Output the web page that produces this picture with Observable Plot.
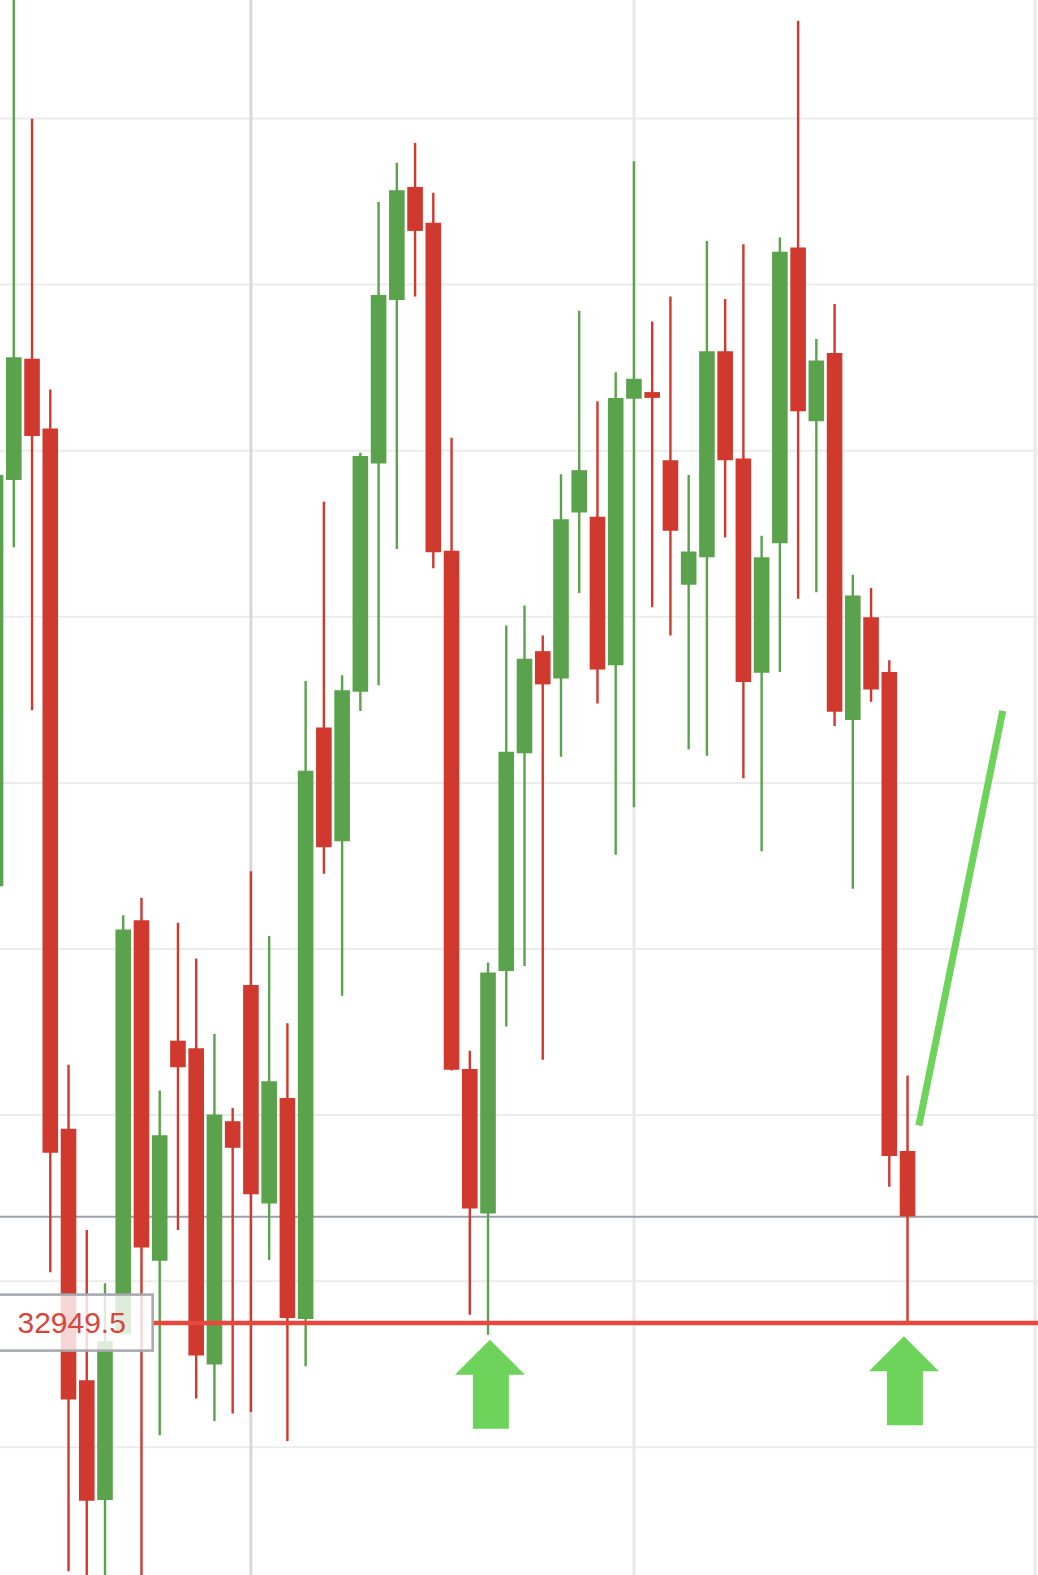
<!DOCTYPE html>
<html><head><meta charset="utf-8">
<script src="https://cdn.jsdelivr.net/npm/d3@7"></script>
<script src="https://cdn.jsdelivr.net/npm/@observablehq/plot@0.6"></script>
<style>html,body{margin:0;padding:0;background:#fff;overflow:hidden}#chart svg{display:block}</style>
</head><body><div id="chart"></div>
<script>
// OHLC per candle (index 0 is partially cut off at left edge)
const opens  = [33475,33964,34110,34026,33183,32880,32736,32936,33434,33024,33289,33280,32899,33192,33356,33093,33220,32954,33666,33529,33709,33984,34181,34317,34274,33879,33255,33081,33373,33635,33758,33725,33925,33920,33741,34062,34070,33988,33838,33871,34119,33990,33732,33888,34244,34035,34117,33675,33799,33733,33156];
const highs  = [33970,34570,34399,34073,33260,33061,32997,33440,33461,33229,33431,33388,33297,33208,33493,33415,33310,33722,33938,33729,33997,34299,34346,34370,34310,34015,33277,33383,33789,33813,33777,33971,34168,34059,34094,34348,34155,34185,33970,34252,34182,34248,33897,34256,34517,34134,34176,33850,33834,33747,33247];
const lows   = [33475,33883,33687,33010,32650,32620,32620,32935,32620,32814,33061,32858,32831,32840,32842,33025,32807,32897,33490,33343,33686,33717,33881,34185,33858,33253,32959,32935,33306,33379,33266,33631,33828,33695,33513,33570,33811,33777,33640,33632,33895,33605,33517,33733,33821,33829,33668,33472,33697,33113,32950];
const closes = [33970,34112,34017,33154,32857,32735,32927,33423,33040,33175,33257,32910,33200,33160,33104,33240,32955,33614,33522,33711,33993,34187,34313,34264,33877,33254,33087,33371,33637,33749,33718,33917,33976,33736,34063,34086,34063,33903,33878,34119,33988,33721,33871,34239,34047,34108,33685,33825,33712,33150,33077.5];

const gridPrices = [32800,33000,33200,33400,33600,33800,34000,34200,34400];
const timeGridIdx = [14, 35, 57];
const supportLevel = 32949.5;
const labelSpan = [-0.5, 8.64];          // candle-index extent of the price tag
const labelTextIdx = [1.2];
const arrowTipIdx = [27.1, 49.8];
const arrowTipPrice = [32929.6, 32933.8];
const trendIdx = [50.62, 55.22];
const trendPrice = [33187.5, 33686.7];

const GREEN = "#5aa24b", RED = "#cf392e", HL = "#6dd35a";
const xDomain = [0.2708, 57.18], yDomain = [32645.6, 34542.1];
const W = 1038, H = 1575;
const pxPerIdx = W / (xDomain[1] - xDomain[0]);
const pxPerPrice = H / (yDomain[1] - yDomain[0]);

const candles = opens.map((o, i) => ({i, open: o, close: closes[i], high: highs[i], low: lows[i]}));
const ups = candles.filter(d => d.close >= d.open);
const downs = candles.filter(d => d.close < d.open);
const lastClose = closes[closes.length - 1];

// arrow polygons (offsets in px, converted into data units)
const shape = [[0,0],[35,35],[19,35],[19,89],[-17,89],[-17,35],[-35,35],[0,0]];
const arrowPts = [];
arrowTipIdx.forEach((xi, k) => {
  shape.forEach(([dx, dy]) => arrowPts.push({a: k, x: xi + dx / pxPerIdx, y: arrowTipPrice[k] - dy / pxPerPrice}));
});
const trend = trendIdx.map((x, k) => ({x, y: trendPrice[k]}));
const tagBox = [{x1: labelSpan[0], x2: labelSpan[1], y1: supportLevel - 28 / pxPerPrice, y2: supportLevel + 28 / pxPerPrice}];

const chart = Plot.plot({
  width: W, height: H, margin: 0,
  style: {background: "#fff"},
  x: {domain: xDomain, axis: null},
  y: {domain: yDomain, axis: null},
  marks: [
    Plot.ruleY(gridPrices, {stroke: "#ececec", strokeWidth: 2}),
    Plot.ruleX(timeGridIdx, {stroke: (d, i) => i === 0 ? "#d8d8d8" : "#e9e9e9", strokeWidth: 3}),
    Plot.ruleY([lastClose], {stroke: "#9aa1aa", strokeWidth: 2}),
    Plot.ruleX(ups, {x: "i", y1: "low", y2: "high", stroke: GREEN, strokeWidth: 2.4, clip: true}),
    Plot.ruleX(downs, {x: "i", y1: "low", y2: "high", stroke: RED, strokeWidth: 2.4, clip: true}),
    Plot.ruleX(ups, {x: "i", y1: "open", y2: "close", stroke: GREEN, strokeWidth: 15.6, clip: true}),
    Plot.ruleX(downs, {x: "i", y1: "open", y2: "close", stroke: RED, strokeWidth: 15.6, clip: true}),
    Plot.ruleY([supportLevel], {x1: labelSpan[1], x2: xDomain[1], stroke: "#e8473e", strokeWidth: 4.5}),
    Plot.rect(tagBox, {x1: "x1", x2: "x2", y1: "y1", y2: "y2", fill: "white", fillOpacity: 0.8, stroke: "#a5a8ae", strokeWidth: 2.5}),
    Plot.text([supportLevel], {x: labelTextIdx[0], y: d => d, text: d => d.toFixed(1), textAnchor: "start", fontSize: 30, fill: "#d5473d", fontFamily: "Liberation Sans, Arial, sans-serif"}),
    Plot.line(trend, {x: "x", y: "y", stroke: HL, strokeWidth: 7, strokeLinecap: "butt"}),
    Plot.line(arrowPts, {x: "x", y: "y", z: "a", fill: HL, stroke: "none"})
  ]
});
document.getElementById("chart").appendChild(chart);
</script>
</body></html>
